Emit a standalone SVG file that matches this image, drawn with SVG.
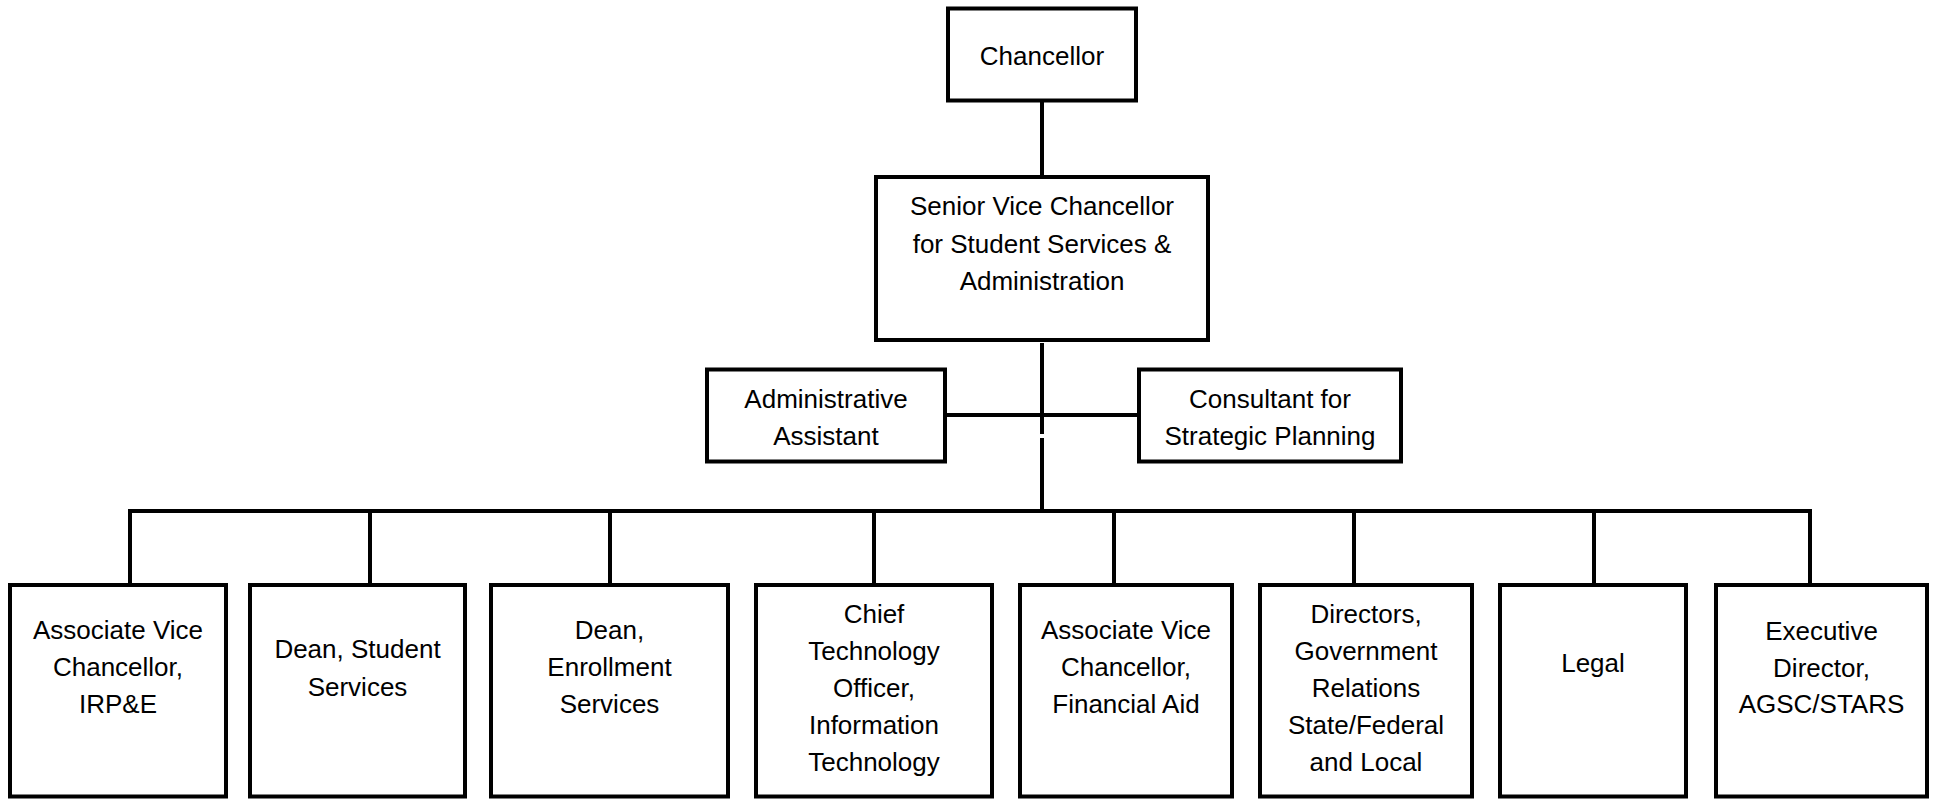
<svg xmlns="http://www.w3.org/2000/svg" width="1939" height="799" viewBox="0 0 1939 799">
<style>
  .box { fill: #ffffff; stroke: #000000; stroke-width: 4; }
  .conn { fill: none; stroke: #000000; stroke-width: 4; stroke-linecap: square; }
  .lbl { font-family: "Liberation Sans", Arial, sans-serif; font-size: 26px; fill: #000000; text-anchor: middle; }
</style>
<rect x="0" y="0" width="1939" height="799" fill="#ffffff"/>
<g id="connectors">
  <line class="conn" x1="1042" y1="103" x2="1042" y2="175"/>
  <line class="conn" x1="1042" y1="343" x2="1042" y2="434" style="stroke-linecap:butt"/>
  <line class="conn" x1="1042" y1="438" x2="1042" y2="510" style="stroke-linecap:butt"/>
  <line class="conn" x1="947" y1="415" x2="1137" y2="415" style="stroke-linecap:butt"/>
  <line class="conn" x1="130" y1="511" x2="1810" y2="511"/>
  <line class="conn" x1="130" y1="511" x2="130" y2="583"/>
  <line class="conn" x1="370" y1="511" x2="370" y2="583"/>
  <line class="conn" x1="610" y1="511" x2="610" y2="583"/>
  <line class="conn" x1="874" y1="511" x2="874" y2="583"/>
  <line class="conn" x1="1114" y1="511" x2="1114" y2="583"/>
  <line class="conn" x1="1354" y1="511" x2="1354" y2="583"/>
  <line class="conn" x1="1594" y1="511" x2="1594" y2="583"/>
  <line class="conn" x1="1810" y1="511" x2="1810" y2="583"/>
</g>
<g id="chancellor">
  <rect class="box" x="948" y="8.5" width="188" height="92"/>
  <text class="lbl" x="1042" y="65">Chancellor</text>
</g>
<g id="svc">
  <rect class="box" x="876" y="177" width="332" height="163"/>
  <text class="lbl" x="1042" y="215">Senior Vice Chancellor</text>
  <text class="lbl" x="1042" y="252.5">for Student Services &amp;</text>
  <text class="lbl" x="1042" y="290">Administration</text>
</g>
<g id="admin-assistant">
  <rect class="box" x="707" y="369.5" width="238" height="92"/>
  <text class="lbl" x="826" y="408">Administrative</text>
  <text class="lbl" x="826" y="445">Assistant</text>
</g>
<g id="consultant">
  <rect class="box" x="1139" y="369.5" width="262" height="92"/>
  <text class="lbl" x="1270" y="408">Consultant for</text>
  <text class="lbl" x="1270" y="445">Strategic Planning</text>
</g>
<g id="avc-irpe">
  <rect class="box" x="10" y="585" width="216" height="211.5"/>
  <text class="lbl" x="118" y="639">Associate Vice</text>
  <text class="lbl" x="118" y="676">Chancellor,</text>
  <text class="lbl" x="118" y="713">IRP&amp;E</text>
</g>
<g id="dean-student">
  <rect class="box" x="250" y="585" width="215" height="211.5"/>
  <text class="lbl" x="357.5" y="658">Dean, Student</text>
  <text class="lbl" x="357.5" y="696">Services</text>
</g>
<g id="dean-enrollment">
  <rect class="box" x="491" y="585" width="237" height="211.5"/>
  <text class="lbl" x="609.5" y="639">Dean,</text>
  <text class="lbl" x="609.5" y="676">Enrollment</text>
  <text class="lbl" x="609.5" y="713">Services</text>
</g>
<g id="cto">
  <rect class="box" x="756" y="585" width="236" height="211.5"/>
  <text class="lbl" x="874" y="623">Chief</text>
  <text class="lbl" x="874" y="660">Technology</text>
  <text class="lbl" x="874" y="697">Officer,</text>
  <text class="lbl" x="874" y="734">Information</text>
  <text class="lbl" x="874" y="771">Technology</text>
</g>
<g id="avc-finaid">
  <rect class="box" x="1020" y="585" width="212" height="211.5"/>
  <text class="lbl" x="1126" y="639">Associate Vice</text>
  <text class="lbl" x="1126" y="676">Chancellor,</text>
  <text class="lbl" x="1126" y="713">Financial Aid</text>
</g>
<g id="gov-relations">
  <rect class="box" x="1260" y="585" width="212" height="211.5"/>
  <text class="lbl" x="1366" y="623">Directors,</text>
  <text class="lbl" x="1366" y="660">Government</text>
  <text class="lbl" x="1366" y="697">Relations</text>
  <text class="lbl" x="1366" y="734">State/Federal</text>
  <text class="lbl" x="1366" y="771">and Local</text>
</g>
<g id="legal">
  <rect class="box" x="1500" y="585" width="186" height="211.5"/>
  <text class="lbl" x="1593" y="672">Legal</text>
</g>
<g id="agsc-stars">
  <rect class="box" x="1716" y="585" width="211" height="211.5"/>
  <text class="lbl" x="1821.5" y="640">Executive</text>
  <text class="lbl" x="1821.5" y="677">Director,</text>
  <text class="lbl" x="1821.5" y="713">AGSC/STARS</text>
</g>
</svg>
